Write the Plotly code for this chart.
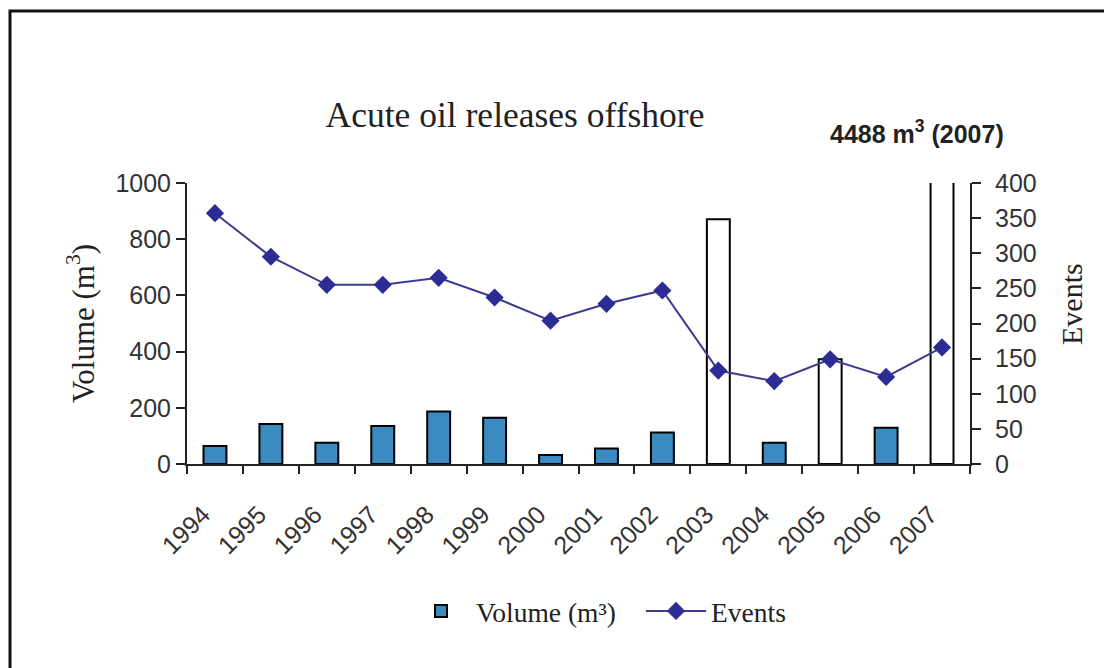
import plotly.graph_objects as go

years = ["1994", "1995", "1996", "1997", "1998", "1999", "2000",
         "2001", "2002", "2003", "2004", "2005", "2006", "2007"]
volume_m3 = [64, 142, 76, 135, 187, 165, 32, 55, 112, 871, 76, 373, 129, 4488]
events = [357, 295, 255, 255, 265, 237, 204, 228, 247, 133, 118, 149, 124, 166]
open_years = ["2003", "2005", "2007"]

BLUE = "#3b8ac0"
NAVY = "#2c2c94"
LINE = "#3c3c8e"
TXT = "#333333"

OFF = 8  # page body margin
W, H = 1112 - OFF, 668 - OFF
L, T = 187 - OFF, 183 - OFF
R, B = W - (970 - OFF), H - (464 - OFF)
PW, PH = W - L - R, H - T - B


def px(x):
    return (x - OFF - L) / PW


def py(y):
    return (H - B - (y - OFF)) / PH


bar_colors = ["white" if y in open_years else BLUE for y in years]

fig = go.Figure()
fig.add_trace(go.Bar(
    x=years, y=volume_m3, name="Volume (m³)",
    marker=dict(color=bar_colors, line=dict(color="black", width=2)),
    width=0.41, yaxis="y",
))
fig.add_trace(go.Scatter(
    x=years, y=events, name="Events", mode="lines+markers",
    line=dict(color=LINE, width=2),
    marker=dict(symbol="diamond", size=14, color=NAVY),
    yaxis="y2",
))

tickfont = dict(family="Liberation Sans, Arial", size=25, color=TXT)
serif = "Liberation Serif, Times New Roman, serif"

fig.update_layout(
    width=W, height=H,
    margin=dict(l=L, r=R, t=T, b=B),
    paper_bgcolor="white", plot_bgcolor="white",
    title=dict(text="Acute oil releases offshore",
               font=dict(family=serif, size=35.5, color="#222222"),
               x=px(515), xref="paper", xanchor="center",
               y=1 - (115 - OFF) / H, yref="container", yanchor="middle"),
    xaxis=dict(
        type="category", range=[-0.5, 13.5],
        showline=True, linecolor="#222222", linewidth=2,
        ticks="outside", ticklen=8, tickwidth=2, tickcolor="#222222",
        tickson="boundaries", tickangle=-45,
        ticklabelstandoff=24, ticklabelshift=-12,
        tickfont=dict(family="Liberation Sans, Arial", size=25, color=TXT),
        showgrid=False, zeroline=False,
    ),
    yaxis=dict(
        range=[0, 1000], dtick=200,
        showline=True, linecolor="#222222", linewidth=2,
        ticks="outside", ticklen=9, tickwidth=2, tickcolor="#222222",
        tickfont=tickfont, showgrid=False, zeroline=False,
        title=dict(text="Volume (m<sup>3</sup>)",
                   font=dict(family=serif, size=31, color="#222222"),
                   standoff=12),
    ),
    yaxis2=dict(
        range=[0, 400], dtick=50, overlaying="y", side="right",
        showline=True, linecolor="#222222", linewidth=2,
        ticks="outside", ticklen=9, tickwidth=2, tickcolor="#222222",
        ticklabelstandoff=9,
        tickfont=tickfont, showgrid=False, zeroline=False,
    ),
    legend=dict(
        orientation="h", x=px(406), xanchor="left",
        y=py(611), yanchor="middle",
        font=dict(family=serif, size=27.5, color="#222222"),
        itemwidth=60, entrywidth=160, traceorder="normal",
    ),
    showlegend=True,
)

fig.add_annotation(
    text="Events", textangle=-90,
    x=px(1071), y=py(304), xref="paper", yref="paper",
    showarrow=False, xanchor="center", yanchor="middle",
    font=dict(family=serif, size=30, color="#222222"),
)

fig.add_annotation(
    text="<b>4488 m<sup>3</sup> (2007)</b>",
    x=px(917), y=py(132), xref="paper", yref="paper",
    showarrow=False, xanchor="center", yanchor="middle",
    font=dict(family="Liberation Sans, Arial", size=25, color="#222222"),
)

fig.add_shape(
    type="rect", xref="paper", yref="paper",
    x0=px(10), x1=px(1140), y0=py(700), y1=py(11),
    line=dict(color="#111111", width=3), fillcolor="rgba(0,0,0,0)",
    layer="below",
)

fig.write_html("out.html")
